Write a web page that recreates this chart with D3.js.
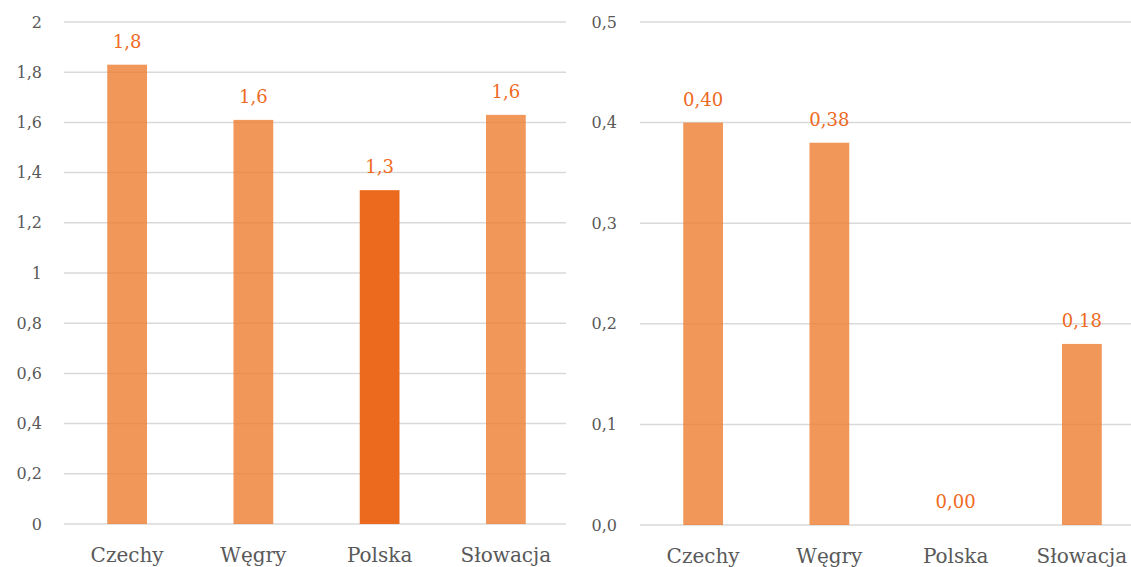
<!DOCTYPE html>
<html>
<head>
<meta charset="utf-8">
<script src="https://cdn.jsdelivr.net/npm/d3@7"></script>
<style>
  html, body { margin: 0; padding: 0; background: #fff; }
  svg { display: block; }
</style>
</head>
<body>
<svg id="chart" width="1131" height="567"></svg>
<script>
// Categories shared by both panels
const countries = ["Czechy", "Węgry", "Polska", "Słowacja"];

// Left panel values
const leftValues = [1.83, 1.61, 1.33, 1.63];
const leftTicks = [0, 0.2, 0.4, 0.6, 0.8, 1, 1.2, 1.4, 1.6, 1.8, 2];

// Right panel values
const rightValues = [0.40, 0.38, 0.00, 0.18];
const rightTicks = [0, 0.1, 0.2, 0.3, 0.4, 0.5];

const FONT = "'DejaVu Serif', 'Liberation Serif', serif";

const svg = d3.select("#chart").attr("font-family", FONT);

const fmtComma = (f) => (v) => f(v).replace(".", ",");

function panel(opts) {
  const g = svg.append("g");
  const x = d3.scaleBand().domain(countries).range([opts.x0, opts.x1]).paddingInner(0.685).paddingOuter(0.3425);
  const y = d3.scaleLinear().domain(opts.domain).range([opts.y0, opts.y1]);

  // Horizontal grid lines
  g.selectAll("line.grid").data(opts.ticks).join("line")
    .attr("class", "grid")
    .attr("x1", opts.gx0).attr("x2", opts.gx1)
    .attr("y1", d => y(d)).attr("y2", d => y(d))
    .attr("stroke", "#d9d9d9").attr("stroke-width", 1.5);

  // Y tick labels
  g.selectAll("text.ytick").data(opts.ticks).join("text")
    .attr("class", "ytick")
    .attr("font-family", FONT)
    .attr("x", opts.tickX).attr("y", d => y(d))
    .attr("dy", "0.35em")
    .attr("text-anchor", "end")
    .attr("font-size", 16)
    .attr("fill", "#595959")
    .text(opts.tickFmt);

  // Bars
  g.selectAll("rect.bar").data(opts.values).join("rect")
    .attr("class", "bar")
    .attr("x", (d, i) => x(countries[i]))
    .attr("width", x.bandwidth())
    .attr("y", d => y(d))
    .attr("height", d => y(0) - y(d))
    .attr("fill", (d, i) => opts.highlight === i ? "#EC6A1E" : "#ED7D31")
    .attr("fill-opacity", (d, i) => opts.highlight === i ? 1 : 0.8);

  // Value labels
  g.selectAll("text.val").data(opts.values).join("text")
    .attr("class", "val")
    .attr("font-family", FONT)
    .attr("x", (d, i) => x(countries[i]) + x.bandwidth() / 2)
    .attr("y", d => y(d) - 17)
    .attr("text-anchor", "middle")
    .attr("font-size", 18)
    .attr("fill", "#EE6A1F")
    .text(opts.valFmt);

  // Category labels
  g.selectAll("text.cat").data(countries).join("text")
    .attr("class", "cat")
    .attr("font-family", FONT)
    .attr("x", d => x(d) + x.bandwidth() / 2)
    .attr("y", opts.y0 + 38)
    .attr("text-anchor", "middle")
    .attr("font-size", 20)
    .attr("fill", "#595959")
    .text(d => d);
}

panel({
  x0: 64, x1: 569, gx0: 64, gx1: 566,
  y0: 524, y1: 22,
  domain: [0, 2],
  ticks: leftTicks,
  values: leftValues,
  highlight: 2,
  tickX: 42,
  tickFmt: v => fmtComma(d3.format("~g"))(v),
  valFmt: fmtComma(d3.format(".1f"))
});

panel({
  x0: 640, x1: 1145, gx0: 640, gx1: 1131,
  y0: 525, y1: 22,
  domain: [0, 0.5],
  ticks: rightTicks,
  values: rightValues,
  highlight: -1,
  tickX: 617,
  tickFmt: fmtComma(d3.format(".1f")),
  valFmt: fmtComma(d3.format(".2f"))
});
</script>
</body>
</html>
